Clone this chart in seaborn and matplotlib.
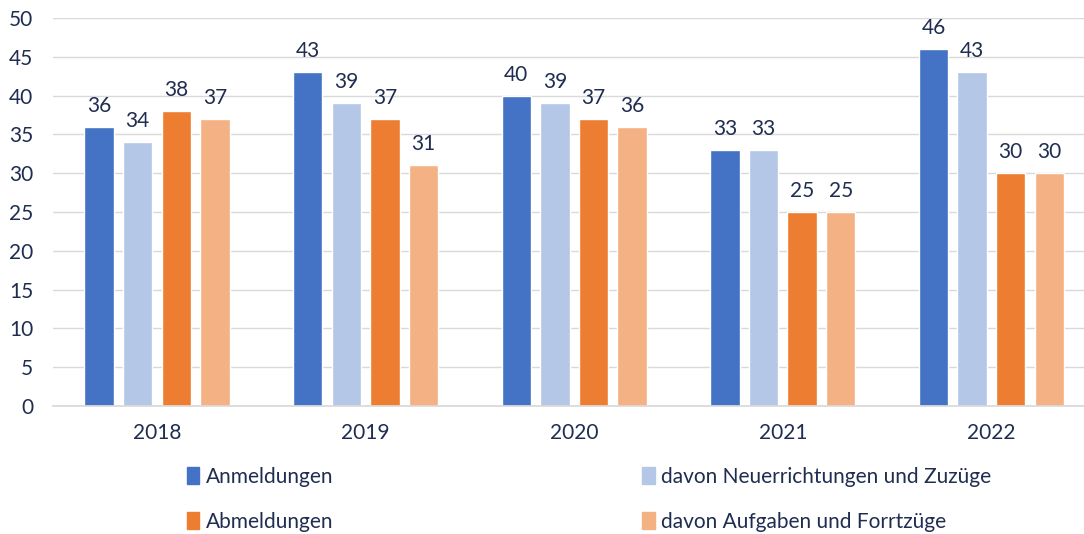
import pandas as pd
import matplotlib.pyplot as plt
import seaborn as sns

years = ["2018", "2019", "2020", "2021", "2022"]
series = ["Anmeldungen", "davon Neuerrichtungen und Zuzüge",
          "Abmeldungen", "davon Aufgaben und Forrtzüge"]
anmeldungen = [36, 43, 40, 33, 46]
neuerrichtungen = [34, 39, 39, 33, 43]
abmeldungen = [38, 37, 37, 25, 30]
aufgaben = [37, 31, 36, 25, 30]

colors = ["#4472C4", "#B4C7E7", "#ED7D31", "#F4B183"]
text_col = "#1F2D50"

df = pd.DataFrame({"Jahr": years, series[0]: anmeldungen, series[1]: neuerrichtungen,
                   series[2]: abmeldungen, series[3]: aufgaben})
df = df.melt(id_vars="Jahr", var_name="Reihe", value_name="Wert")

sns.set_theme(style="white")
plt.rcParams['font.family'] = ['Lato', 'DejaVu Sans']

fig = plt.figure(figsize=(10.84, 5.34), dpi=100)
ax = fig.add_axes([0.0486, 0.240, 0.9622, 0.726])

sns.barplot(data=df, x="Jahr", y="Wert", hue="Reihe", hue_order=series,
            palette=colors, width=0.74, gap=0.24, ax=ax, legend=False, saturation=1)

for cont in ax.containers:
    ax.bar_label(cont, padding=8, fontsize=15, color=text_col)

ax.set_ylim(0, 50)
ax.set_xlim(-0.5, 4.5)
ax.set_yticks(range(0, 51, 5))
ax.yaxis.grid(True, color="#D9D9D9", linewidth=1)
ax.set_axisbelow(True)
for s in ["left", "right", "top"]:
    ax.spines[s].set_visible(False)
ax.spines["bottom"].set_color("#D9D9D9")
ax.tick_params(axis="both", length=0, labelsize=15, colors=text_col)
ax.tick_params(axis="x", pad=12)
ax.tick_params(axis="y", pad=14)
ax.set_xlabel("")
ax.set_ylabel("")

handles = [plt.Rectangle((0, 0), 1, 1, color=c) for c in colors]
order = [0, 2, 1, 3]
leg = fig.legend([handles[i] for i in order], [series[i] for i in order],
                 loc="lower left", bbox_to_anchor=(0.155, -0.031), ncol=2, frameon=False,
                 fontsize=15, handlelength=0.6, handleheight=0.9, handletextpad=0.3,
                 columnspacing=14.85, labelspacing=1.2)
for t in leg.get_texts():
    t.set_color(text_col)

fig.savefig("out.png", dpi=100)
